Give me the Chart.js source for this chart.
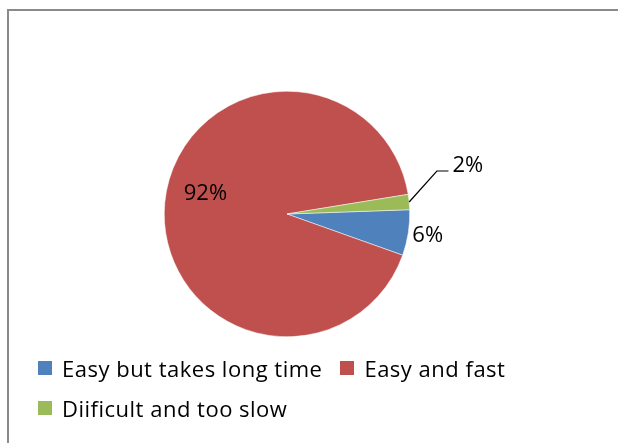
<!DOCTYPE html>
<html lang="en">

<head>
  <title>Survey pie</title>
  <script src="https://cdn.jsdelivr.net/npm/chart.js"></script>
  <meta charset="utf-8"/>
  <style>
    html, body {
      margin: 0;
      padding: 0;
      background: #fff;
      width: 618px;
      height: 443px;
      overflow: hidden;
      position: relative;
    }

    #frame {
      position: absolute;
      left: 7px;
      top: 9px;
      width: 640px;
      height: 460px;
      border-left: 2px solid #8a8a8a;
      border-top: 2px solid #8a8a8a;
    }

    #chart {
      position: absolute;
      left: 0;
      top: 0;
      width: 618px;
      height: 443px;
    }

    #legend {
      position: absolute;
      left: 38px;
      top: 348px;
      width: 520px;
      display: flex;
      flex-wrap: wrap;
      font-family: "Open Sans", sans-serif;
      font-size: 22px;
      letter-spacing: 0.5px;
      line-height: 40px;
      color: #000;
    }

    .item {
      display: flex;
      align-items: center;
      margin-right: 18px;
      white-space: nowrap;
    }

    .swatch {
      width: 14px;
      height: 14px;
      margin-right: 10px;
    }
  </style>
</head>

<body>
  <div id="frame"></div>
  <div id="chart">
    <canvas id="my_chart" width="618" height="443"></canvas>
  </div>
  <div id="legend"></div>

<script>
var categories = ['Easy but takes long time', 'Easy and fast', 'Diificult and too slow'];
var percentages = [6, 92, 2];
var pctLabels = ['6%', '92%', '2%'];

const SLICE_COLORS = ['#4f81bd', '#c0504d', '#9bbb59'];

// where each percentage sits: inside the slice, just outside, or on a leader line
const LABEL_STYLE = [
  { mode: 'outside', factor: 1.16, nudge: 0 },
  { mode: 'inside', factor: 0.684, nudge: 8.6 },
  { mode: 'leader', dx: 27.7, dy: -31, run: 11.6 }
];

const pctLabelPlugin = {
  id: 'pctLabels',
  afterDatasetsDraw(chart) {
    const ctx = chart.ctx;
    const arcs = chart.getDatasetMeta(0).data;
    ctx.save();
    ctx.font = '22px "Open Sans", sans-serif';
    ctx.fillStyle = '#000';
    ctx.strokeStyle = '#000';
    ctx.lineWidth = 1.2;
    arcs.forEach((arc, i) => {
      const p = arc.getProps(['x', 'y', 'startAngle', 'endAngle', 'outerRadius'], true);
      const style = LABEL_STYLE[i];
      let mid = (p.startAngle + p.endAngle) / 2;
      if (style.mode === 'leader') {
        const ex = p.x + Math.cos(mid) * p.outerRadius;
        const ey = p.y + Math.sin(mid) * p.outerRadius;
        const kx = ex + style.dx, ky = ey + style.dy;
        ctx.beginPath();
        ctx.moveTo(ex, ey);
        ctx.lineTo(kx, ky);
        ctx.lineTo(kx + style.run, ky);
        ctx.stroke();
        ctx.textAlign = 'left';
        ctx.textBaseline = 'middle';
        ctx.fillText(pctLabels[i], kx + style.run + 4, ky - 5);
      } else {
        mid += style.nudge * Math.PI / 180;
        const r = p.outerRadius * style.factor;
        ctx.textAlign = 'center';
        ctx.textBaseline = 'middle';
        ctx.fillText(pctLabels[i], p.x + Math.cos(mid) * r, p.y + Math.sin(mid) * r);
      }
    });
    ctx.restore();
  }
};

function buildLegend () {
  const box = document.getElementById('legend');
  categories.forEach((name, i) => {
    const item = document.createElement('div');
    item.className = 'item';
    const sw = document.createElement('span');
    sw.className = 'swatch';
    sw.style.background = SLICE_COLORS[i];
    item.appendChild(sw);
    item.appendChild(document.createTextNode(name));
    box.appendChild(item);
  });
}

var pieChart;
window.onload = function () {
  const config = {
    type: 'pie',
    data: {
      labels: categories,
      datasets: [{
        data: percentages,
        backgroundColor: SLICE_COLORS,
        borderColor: '#ffffff',
        borderWidth: 0.5,
        hoverOffset: 0
      }]
    },
    options: {
      responsive: false,
      animation: false,
      rotation: 88,
      layout: {
        padding: { left: 164, right: 208, top: 91, bottom: 106 }
      },
      plugins: {
        legend: { display: false },
        tooltip: { enabled: false }
      }
    },
    plugins: [pctLabelPlugin]
  };

  const ctx = document.getElementById('my_chart').getContext('2d');
  pieChart = new Chart(ctx, config);
  buildLegend();
}
</script>

</body>

</html>
